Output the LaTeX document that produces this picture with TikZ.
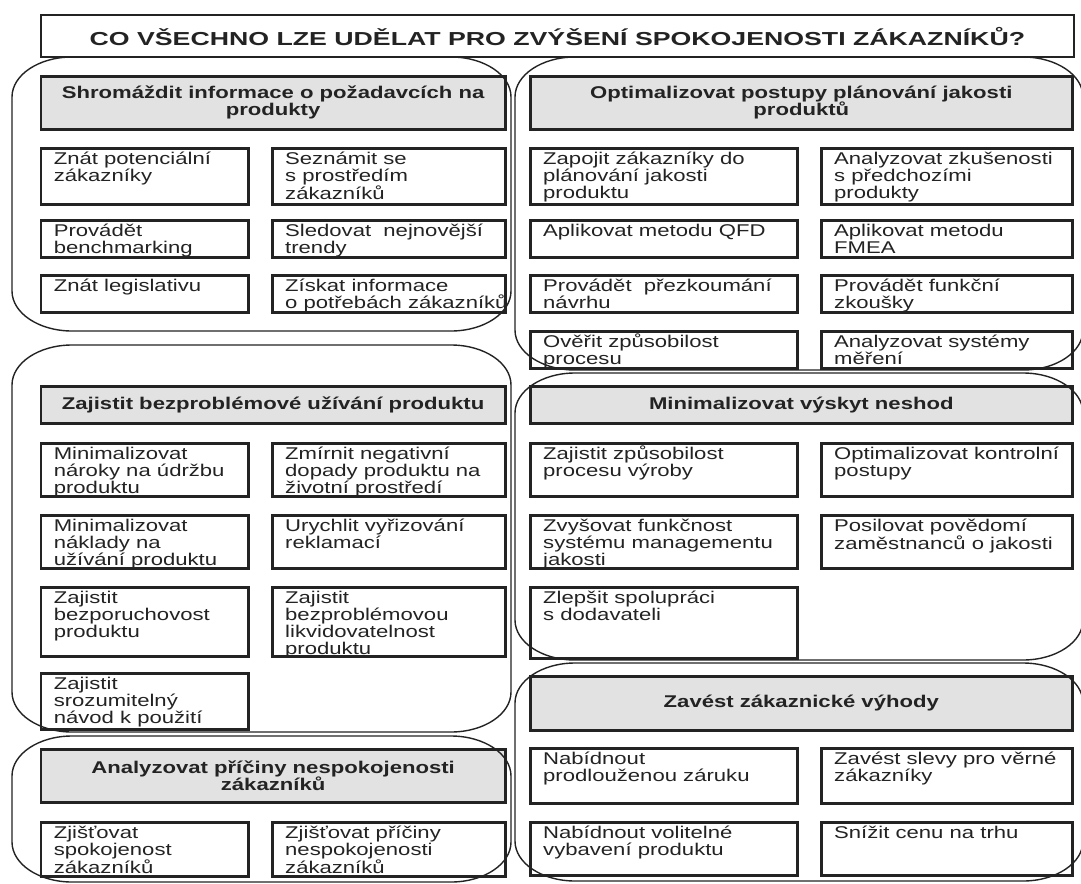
\documentclass[tikz,border=0pt]{standalone}
\usepackage{fontspec}
\setmainfont{Liberation Sans}[FakeStretch=1.3]
\newfontfamily\titlefont{Liberation Sans}[FakeStretch=1.42]

\definecolor{ink}{RGB}{35,35,35}
\definecolor{headfill}{RGB}{226,226,226}

\tikzset{
  cellbox/.style={draw=ink, line width=2.6pt, anchor=north west, inner sep=0pt},
  celltext/.style={anchor=north west, inner sep=0pt, align=left,
    font=\fontsize{17}{17.2}\selectfont, text=ink},
  headbox/.style={draw=ink, fill=headfill, line width=2.6pt, anchor=north west,
    inner sep=0pt, align=center, font=\fontsize{17}{17.2}\selectfont\bfseries, text=ink},
  titlebox/.style={draw=ink, line width=2.2pt, anchor=north west, inner sep=0pt, text=ink},
  grpline/.style={draw=ink, line width=1.4pt},
}

% plain cell: name, x1, y1, x2, y2, text (top-left aligned)
\newcommand\cellnode[6]{%
  \node[cellbox, minimum width={#4-#2}, minimum height={#5-#3}] (#1) at (#2,#3) {};
  \node[celltext] (#1-t) at ([shift={(14,3.5)}]#1.north west) {\rule{0pt}{13.5pt}#6};
}
% grey heading cell: name, x1, y1, x2, y2, text (centred)
\newcommand\headnode[6]{%
  \node[headbox, minimum width={#4-#2}, minimum height={#5-#3}] (#1) at (#2,#3) {#6};
}
% rounded group frame with elliptic corners: x1, y1, x2, y2
\newcommand\grpframe[4]{%
  \draw[grpline] (#1,#2+40) arc[start angle=180,end angle=90,x radius=60pt,y radius=40pt]
    -- (#3-60,#2) arc[start angle=90,end angle=0,x radius=60pt,y radius=40pt]
    -- (#3,#4-40) arc[start angle=0,end angle=-90,x radius=60pt,y radius=40pt]
    -- (#1+60,#4) arc[start angle=-90,end angle=-180,x radius=60pt,y radius=40pt] -- cycle;
}

\begin{document}
\begin{tikzpicture}[x=1pt,y=-1pt]
\fill[white] (0,0) rectangle (1081,883);
\useasboundingbox (0,0) rectangle (1081,883);

% title
\node[titlebox, minimum width={1073-39.6}, minimum height={56-14}] (title) at (39.6,14)
  {\titlefont\fontsize{18.8}{19}\bfseries\selectfont CO VŠECHNO LZE UDĚLAT PRO ZVÝŠENÍ SPOKOJENOSTI ZÁKAZNÍKŮ?};

% --- gather information
\headnode{h1}{39.6}{75}{504}{128}{Shromáždit informace o požadavcích na\\produkty}
\cellnode{a1}{39.6}{147}{247}{203}{Znát potenciální\\zákazníky}
\cellnode{a2}{271}{147}{504}{203}{Seznámit se\\s prostředím\\zákazníků}
\cellnode{a3}{39.6}{219}{247}{256}{Provádět\\benchmarking}
\cellnode{a4}{271}{219}{504}{256}{Sledovat\ \ nejnovější\\trendy}
\cellnode{a5}{39.6}{274}{247}{311}{Znát legislativu}
\cellnode{a6}{271}{274}{504}{311}{Získat informace\\o potřebách zákazníků}

% --- quality planning
\headnode{h2}{529}{75}{1071}{128}{Optimalizovat postupy plánování jakosti\\produktů}
\cellnode{b1}{529}{147}{796}{203}{Zapojit zákazníky do\\plánování jakosti\\produktu}
\cellnode{b2}{820}{147}{1071}{203}{Analyzovat zkušenosti\\s předchozími\\produkty}
\cellnode{b3}{529}{219}{796}{256}{Aplikovat metodu QFD}
\cellnode{b4}{820}{219}{1071}{256}{Aplikovat metodu\\FMEA}
\cellnode{b5}{529}{274}{796}{311}{Provádět\ \ přezkoumání\\návrhu}
\cellnode{b6}{820}{274}{1071}{311}{Provádět funkční\\zkoušky}
\cellnode{b7}{529}{330}{796}{367}{Ověřit způsobilost\\procesu}
\cellnode{b8}{820}{330}{1071}{367}{Analyzovat systémy\\měření}

% --- trouble-free use
\headnode{h3}{39.6}{385}{504}{422}{Zajistit bezproblémové užívání produktu}
\cellnode{c1}{39.6}{442}{247}{495}{Minimalizovat\\nároky na údržbu\\produktu}
\cellnode{c2}{271}{442}{504}{495}{Zmírnit negativní\\dopady produktu na\\životní prostředí}
\cellnode{c3}{39.6}{514}{247}{567}{Minimalizovat\\náklady na\\užívání produktu}
\cellnode{c4}{271}{514}{504}{567}{Urychlit vyřizování\\reklamací}
\cellnode{c5}{39.6}{586}{247}{655}{Zajistit\\bezporuchovost\\produktu}
\cellnode{c6}{271}{586}{504}{655}{Zajistit\\bezproblémovou\\likvidovatelnost\\produktu}
\cellnode{c7}{39.6}{672}{247}{728}{Zajistit\\srozumitelný\\návod k použití}

% --- nonconformities
\headnode{h4}{529}{385}{1071}{422}{Minimalizovat výskyt neshod}
\cellnode{d1}{529}{442}{796}{495}{Zajistit způsobilost\\procesu výroby}
\cellnode{d2}{820}{442}{1071}{495}{Optimalizovat kontrolní\\postupy}
\cellnode{d3}{529}{514}{796}{567}{Zvyšovat funkčnost\\systému managementu\\jakosti}
\cellnode{d4}{820}{514}{1071}{567}{Posilovat povědomí\\zaměstnanců o jakosti}
\cellnode{d5}{529}{586}{796}{657}{Zlepšit spolupráci\\s dodavateli}

% --- dissatisfaction causes
\headnode{h5}{39.6}{748}{504}{801}{Analyzovat příčiny nespokojenosti\\zákazníků}
\cellnode{e1}{39.6}{821}{247}{875}{Zjišťovat\\spokojenost\\zákazníků}
\cellnode{e2}{271}{821}{504}{875}{Zjišťovat příčiny\\nespokojenosti\\zákazníků}

% --- customer benefits
\headnode{h6}{529}{675}{1071}{729}{Zavést zákaznické výhody}
\cellnode{f1}{529}{747}{796}{802}{Nabídnout\\prodlouženou záruku}
\cellnode{f2}{820}{747}{1071}{802}{Zavést slevy pro věrné\\zákazníky}
\cellnode{f3}{529}{821}{796}{874}{Nabídnout volitelné\\vybavení produktu}
\cellnode{f4}{820}{821}{1071}{874}{Snížit cenu na trhu}

% group frames
\grpframe{12}{57}{511}{331}
\grpframe{12}{345}{511}{732}
\grpframe{12}{736}{511}{882}
\grpframe{515}{57}{1083}{370}
\grpframe{515}{373}{1083}{660}
\grpframe{515}{663}{1083}{881}
\end{tikzpicture}
\end{document}
